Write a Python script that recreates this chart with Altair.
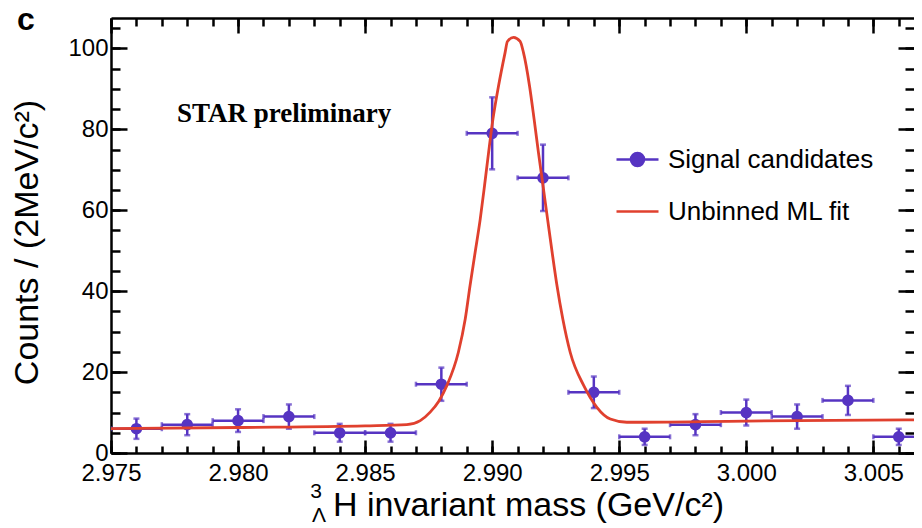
import altair as alt
import pandas as pd

# ---------------- data ----------------
mass = [2.976, 2.978, 2.980, 2.982, 2.984, 2.986, 2.988, 2.990,
        2.992, 2.994, 2.996, 2.998, 3.000, 3.002, 3.004, 3.006]
counts = [6, 7, 8, 9, 5, 5, 17, 79, 68, 15, 4, 7, 10, 9, 13, 4]
count_err = [2.5, 2.6, 2.8, 3.0, 2.2, 2.2, 4.1, 8.9, 8.2, 3.9,
             2.0, 2.6, 3.2, 3.0, 3.6, 2.0]
bin_half_width = 0.001

fit_mass = [2.9750, 2.9800, 2.9850, 2.98664, 2.98717, 2.98756, 2.98790, 2.98822,
            2.98867, 2.98894, 2.98913, 2.98933, 2.98953, 2.98970, 2.98986, 2.99003,
            2.99025, 2.99051, 2.99060, 2.99084, 2.99110, 2.99123, 2.99147, 2.99165,
            2.99182, 2.99200, 2.99218, 2.99236, 2.99255, 2.99278, 2.99307, 2.99360,
            2.99412, 2.99465, 2.99530, 3.0000, 3.0066]
fit_counts = [6.0, 6.3, 6.7, 7.0, 8.0, 10.1, 12.8, 16.7,
              24.9, 33.1, 41.4, 49.6, 57.8, 66.1, 74.3, 82.5,
              90.7, 99.0, 101.7, 102.7, 101.7, 99.0, 90.7, 82.5,
              74.3, 66.1, 57.8, 49.6, 41.4, 33.1, 24.9, 16.7,
              11.3, 8.4, 7.6, 7.9, 8.2]

x_major = [2.975, 2.980, 2.985, 2.990, 2.995, 3.000, 3.005]
x_minor = [2.975, 2.976, 2.977, 2.978, 2.979, 2.980, 2.981, 2.982, 2.983, 2.984,
           2.985, 2.986, 2.987, 2.988, 2.989, 2.990, 2.991, 2.992, 2.993, 2.994,
           2.995, 2.996, 2.997, 2.998, 2.999, 3.000, 3.001, 3.002, 3.003, 3.004,
           3.005, 3.006]
y_major = [0, 20, 40, 60, 80, 100]
y_minor = [0, 5, 10, 15, 20, 25, 30, 35, 40, 45, 50, 55, 60, 65, 70, 75, 80,
           85, 90, 95, 100, 105]

series_names = ["Signal candidates", "Unbinned ML fit"]
star_label = ["STAR preliminary"]
star_pos_mass = [2.9776]
star_pos_counts = [81.7]

panel_label = "c"
x_title = "H invariant mass (GeV/c²)"
y_title = "Counts / (2MeV/c²)"

# ---------------- styling ----------------
X_DOMAIN = [2.975, 3.0066]
Y_DOMAIN = [0, 107.5]
W, H = 803, 435
PURPLE = "#5634c2"
RED = "#e0402e"
FONT = "Liberation Sans"
LW = 2.5

pts = pd.DataFrame({"mass": mass, "counts": counts, "err": count_err})
pts["xlo"] = pts["mass"] - bin_half_width
pts["xhi"] = pts["mass"] + bin_half_width
pts["ylo"] = pts["counts"] - pts["err"]
pts["yhi"] = pts["counts"] + pts["err"]
pts["series"] = series_names[0]

caps_v = pd.DataFrame({"cx": list(pts["xlo"]) + list(pts["xhi"]),
                       "cy": counts + counts})
caps_h = pd.DataFrame({"cx": mass + mass,
                       "cy": list(pts["ylo"]) + list(pts["yhi"])})
fit = pd.DataFrame({"mass": fit_mass, "counts": fit_counts, "series": series_names[1]})
star = pd.DataFrame({"x": star_pos_mass, "y": star_pos_counts, "t": star_label})

xs = alt.Scale(domain=X_DOMAIN, nice=False, zero=False)
ys = alt.Scale(domain=Y_DOMAIN, nice=False, zero=False)


def tick_axis(orient, values, size, domain=False):
    return alt.Axis(orient=orient, values=values, labels=False, ticks=True,
                    tickSize={"expr": str(-size)}, tickWidth=LW, tickColor="black",
                    domain=domain, domainColor="black", domainWidth=LW,
                    grid=False, title=None)


x_label_axis = alt.Axis(orient="bottom", values=x_major, format=".3f", ticks=False,
                        domain=True, domainColor="black", domainWidth=LW, grid=False,
                        labelFont=FONT, labelFontSize=24, labelColor="black",
                        labelPadding=8, labelFlush=False, labelOverlap=False,
                        title=x_title, titleFont=FONT, titleFontSize=34,
                        titleFontWeight="normal", titleColor="black",
                        titleX=417, titleY=62, titleAlign="center",
                        titleBaseline="alphabetic")
y_label_axis = alt.Axis(orient="left", values=y_major, format="d", ticks=False,
                        domain=True, domainColor="black", domainWidth=LW, grid=False,
                        labelFont=FONT, labelFontSize=24, labelColor="black",
                        labelPadding=3, labelFlush=False, labelOverlap=False,
                        title=y_title, titleFont=FONT, titleFontSize=34,
                        titleFontWeight="normal", titleColor="black",
                        titleX=-74, titleY=224, titleAngle=270, titleAlign="center",
                        titleBaseline="alphabetic")

SIG_PATH = "M-1,0H1M0.31,0A0.31,0.31,0,1,1,-0.31,0A0.31,0.31,0,1,1,0.31,0Z"
sig_legend = alt.Legend(orient="none", legendX=504, legendY=119, title=None,
                        symbolType=SIG_PATH, symbolSize=1764,
                        symbolStrokeColor=PURPLE, symbolStrokeWidth=LW,
                        symbolOpacity=1, labelFont=FONT, labelFontSize=26,
                        labelColor="black", labelOffset=8, padding=0, labelLimit=400)
fit_legend = alt.Legend(orient="none", legendX=504, legendY=171, title=None,
                        symbolType="stroke", symbolSize=1764, symbolStrokeWidth=LW,
                        labelFont=FONT, labelFontSize=26, labelColor="black",
                        labelOffset=8, padding=0, labelLimit=400)

hbar = alt.Chart(pts).mark_rule(color=PURPLE, strokeWidth=LW, clip=True).encode(
    x=alt.X("xlo:Q", scale=xs, axis=x_label_axis),
    x2="xhi:Q",
    y=alt.Y("counts:Q", scale=ys, axis=y_label_axis),
)
vbar = alt.Chart(pts).mark_rule(color=PURPLE, strokeWidth=LW, clip=True).encode(
    x=alt.X("mass:Q", scale=xs, axis=tick_axis("bottom", x_major, 13)),
    y=alt.Y("ylo:Q", scale=ys, axis=tick_axis("left", y_major, 16)),
    y2="yhi:Q",
)
capv = alt.Chart(caps_v).mark_tick(color=PURPLE, orient="vertical", size=5,
                                   thickness=LW, clip=True).encode(
    x=alt.X("cx:Q", scale=xs, axis=tick_axis("bottom", x_minor, 7)),
    y=alt.Y("cy:Q", scale=ys, axis=tick_axis("left", y_minor, 9)),
)
caph = alt.Chart(caps_h).mark_tick(color=PURPLE, orient="horizontal", size=6,
                                   thickness=LW, clip=True).encode(
    x=alt.X("cx:Q", scale=xs, axis=tick_axis("top", x_major, 15, domain=True)),
    y=alt.Y("cy:Q", scale=ys, axis=tick_axis("right", y_major, 16)),
)
dots = alt.Chart(pts).mark_circle(size=135, opacity=1, clip=True).encode(
    x=alt.X("mass:Q", scale=xs, axis=tick_axis("top", x_minor, 8)),
    y=alt.Y("counts:Q", scale=ys, axis=tick_axis("right", y_minor, 9)),
    fill=alt.Fill("series:N", scale=alt.Scale(domain=[series_names[0]], range=[PURPLE]),
                  legend=sig_legend),
)
fit_line = alt.Chart(fit).mark_line(strokeWidth=2.8, interpolate="monotone",
                                    clip=True).encode(
    x=alt.X("mass:Q", scale=xs, axis=None),
    y=alt.Y("counts:Q", scale=ys, axis=None),
    stroke=alt.Stroke("series:N", scale=alt.Scale(domain=[series_names[1]], range=[RED]),
                      legend=fit_legend),
)
star_text = alt.Chart(star).mark_text(font="Liberation Serif", fontSize=27,
                                      fontWeight="bold", align="left",
                                      baseline="alphabetic", color="black").encode(
    x=alt.X("x:Q", scale=xs, axis=None),
    y=alt.Y("y:Q", scale=ys, axis=None),
    text="t:N",
)
sup3 = alt.Chart(pd.DataFrame({"t": ["3"]})).mark_text(
    font=FONT, fontSize=21, align="center", baseline="alphabetic", color="black"
).encode(x=alt.value(205), y=alt.value(480), text="t:N")
subL = alt.Chart(pd.DataFrame({"t": ["Λ"]})).mark_text(
    font=FONT, fontSize=21, align="center", baseline="alphabetic", color="black"
).encode(x=alt.value(208), y=alt.value(504), text="t:N")
panel = alt.Chart(pd.DataFrame({"t": [panel_label]})).mark_text(
    font=FONT, fontSize=32, fontWeight="bold", align="left", baseline="alphabetic",
    color="black"
).encode(x=alt.value(-94), y=alt.value(12), text="t:N")

chart = alt.layer(
    hbar, vbar, capv, caph, dots, fit_line, star_text, sup3, subL, panel
).resolve_scale(
    x="shared", y="shared"
).resolve_axis(
    x="independent", y="independent"
).properties(
    width=W, height=H,
    padding={"left": 103, "top": 10, "right": 0, "bottom": 76},
    autosize=alt.AutoSizeParams(type="none"),
).configure_view(strokeWidth=0).configure_axis(grid=False)

chart.save("out.html", embed_options={"renderer": "svg", "actions": False})
